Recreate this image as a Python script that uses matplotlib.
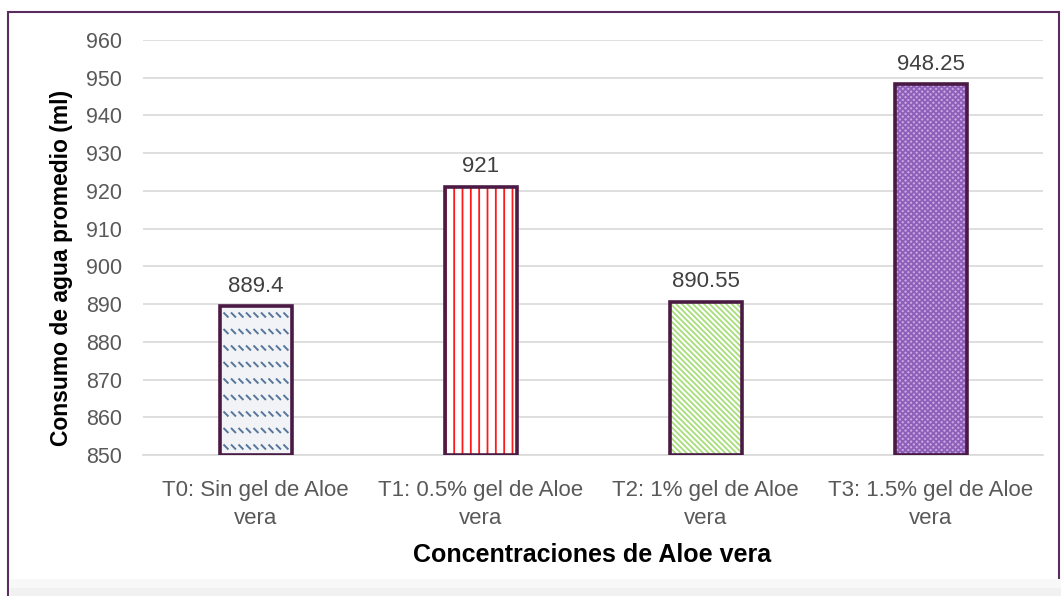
import matplotlib
matplotlib.use('Agg')
import matplotlib.pyplot as plt
from matplotlib.patches import Rectangle
from matplotlib.collections import LineCollection
import numpy as np

categorias = ['T0: Sin gel de Aloe\nvera', 'T1: 0.5% gel de Aloe\nvera',
              'T2: 1% gel de Aloe\nvera', 'T3: 1.5% gel de Aloe\nvera']
consumo = [889.4, 921, 890.55, 948.25]
etiquetas = ['889.4', '921', '890.55', '948.25']

relleno = ['#f1f3f7', '#ffffff', '#ffffff', '#c8a6e2']
trama = ['', '||', '\\\\\\\\\\\\', 'xxxxxx']
color_trama = ['#56769a', '#ff1a1a', '#a6de7a', '#8e5fb8']

plt.rcParams['font.family'] = ['Liberation Sans', 'DejaVu Sans']
plt.rcParams['hatch.linewidth'] = 1.3

fig = plt.figure(figsize=(10.62, 5.96), dpi=100)
fig.patches.append(Rectangle((0.0075, -0.05), 0.99, 1.03, transform=fig.transFigure,
                             fill=False, edgecolor='#5b2c5f', linewidth=1.5))
# soft shadow strip at the bottom
fig.patches.append(Rectangle((0.009, 0.0), 0.99, 0.028, transform=fig.transFigure,
                             facecolor='#f8f8f8', edgecolor='none'))
fig.patches.append(Rectangle((0.009, 0.0), 0.99, 0.014, transform=fig.transFigure,
                             facecolor='#f1f1f1', edgecolor='none'))
ax = fig.add_axes([0.1347, 0.2366, 0.8475, 0.6963])

x = np.arange(len(categorias))
ancho = 0.32
for i in range(len(x)):
    ax.bar(x[i], consumo[i] - 850, bottom=850, width=ancho, color=relleno[i],
           hatch=trama[i], edgecolor=color_trama[i], linewidth=0, zorder=2)
    ax.bar(x[i], consumo[i] - 850, bottom=850, width=ancho, fill=False,
           edgecolor='#4a1a44', linewidth=2.6, zorder=4)
    ax.text(x[i], consumo[i] + 2.6, etiquetas[i], ha='center', va='bottom',
            fontsize=16, color='#404040')

# short diagonal strokes for the T0 pattern
px_x = ancho / 73.0
px_y = 110 / 415.0
segs = []
y0 = 850 + 8 * px_y
while y0 < consumo[0] - 3 * px_y:
    for k in range(9):
        xs = x[0] - ancho / 2 + (4 + k * 7.6) * px_x
        segs.append([(xs, y0 + 2.5 * px_y), (xs + 5 * px_x, y0 - 2.5 * px_y)])
    y0 += 16.5 * px_y
ax.add_collection(LineCollection(segs, colors='#56769a', linewidths=1.4, zorder=3))

ax.set_xlim(-0.5, 3.5)
ax.set_ylim(850, 960)
ax.set_yticks(np.arange(850, 961, 10))
ax.set_xticks(x)
ax.set_xticklabels(categorias, fontsize=16, color='#595959', linespacing=1.45)
ax.tick_params(axis='y', labelsize=15.5, labelcolor='#595959', length=0, pad=15)
ax.tick_params(axis='x', length=0, pad=18)
ax.grid(axis='y', color='#d9d9d9', linewidth=1.2, zorder=0)
ax.set_axisbelow(True)
for s in ['top', 'right', 'left']:
    ax.spines[s].set_visible(False)
ax.spines['bottom'].set_color('#d9d9d9')
ax.spines['bottom'].set_linewidth(1.2)

fig.text(62 / 1062, 0.55, 'Consumo de agua promedio (ml)', rotation=90,
         ha='center', va='center', fontsize=16.5, fontweight='bold', color='black')
fig.text(592 / 1062, 1 - 555 / 596, 'Concentraciones de Aloe vera', ha='center',
         va='center', fontsize=18, fontweight='bold', color='black')

fig.savefig('out.png', dpi=100)
